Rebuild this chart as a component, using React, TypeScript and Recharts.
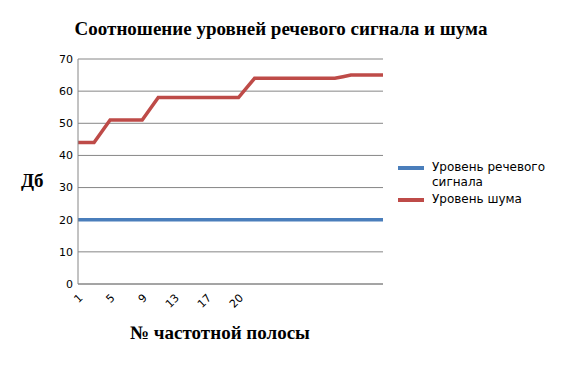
import React from "react";
import { LineChart, Line, XAxis, YAxis, CartesianGrid } from "recharts";

const BANDS: number[] = Array.from({ length: 39 }, (_, i) => i + 1);
const X_LABELS: string[] = [
  "1", "", "", "", "5", "", "", "", "9", "", "", "", "13", "", "", "", "17", "", "", "", "20",
  "", "", "", "", "", "", "", "", "", "", "", "", "", "", "", "", "", "",
];
const SPEECH: number[] = Array.from({ length: 39 }, () => 20);
const NOISE: number[] = [
  44, 44, 44, 47.5, 51, 51, 51, 51, 51, 54.5, 58, 58, 58, 58, 58, 58, 58, 58, 58, 58, 58, 61,
  64, 64, 64, 64, 64, 64, 64, 64, 64, 64, 64, 64.5, 65, 65, 65, 65, 65,
];
const Y_TICKS: number[] = [0, 10, 20, 30, 40, 50, 60, 70];

const SERIES_NAMES = ["Уровень речевого сигнала", "Уровень шума"];
const BLUE = "#4a7ebb";
const RED = "#be4b48";

const data = BANDS.map((b, i) => ({ band: b, speech: SPEECH[i], noise: NOISE[i] }));

const SANS = "'DejaVu Sans', sans-serif";
const SERIF = "'Liberation Serif', 'Times New Roman', serif";

const XTick = (props: any) => {
  const { x, y, payload } = props;
  const label = X_LABELS[payload.index] ?? "";
  if (!label) return null;
  return (
    <text
      x={x + 3}
      y={y + 4}
      textAnchor="end"
      fontFamily={SANS}
      fontSize={11}
      fill="#000"
      transform={`rotate(-45, ${x + 3}, ${y + 4})`}
      dominantBaseline="central"
    >
      {label}
    </text>
  );
};

const LegendBox = () => (
  <div
    style={{
      position: "absolute",
      left: 390,
      top: 152,
      fontFamily: SANS,
      fontSize: 12,
      color: "#000",
      lineHeight: "15px",
    }}
  >
    <div style={{ display: "flex", alignItems: "flex-start" }}>
      <div style={{ width: 26, height: 4, background: BLUE, marginTop: 6, marginRight: 8 }} />
      <div style={{ width: 125 }}>{SERIES_NAMES[0]}</div>
    </div>
    <div style={{ display: "flex", alignItems: "flex-start", marginTop: 2 }}>
      <div style={{ width: 26, height: 4, background: RED, marginTop: 6, marginRight: 8 }} />
      <div>{SERIES_NAMES[1]}</div>
    </div>
  </div>
);

export default function App() {
  return (
    <div style={{ position: "relative", width: 554, height: 357 }}>
      <div
        style={{
          position: "absolute",
          left: 0,
          width: 546,
          top: 10,
          textAlign: "center",
          fontFamily: SERIF,
          fontWeight: "bold",
          fontSize: 19,
          color: "#000",
        }}
      >
        Соотношение уровней речевого сигнала и шума
      </div>
      <div
        style={{
          position: "absolute",
          left: 13,
          top: 162,
          fontFamily: SERIF,
          fontWeight: "bold",
          fontSize: 19,
          color: "#000",
        }}
      >
        Дб
      </div>
      <div
        style={{
          position: "absolute",
          left: 0,
          width: 424,
          top: 314,
          textAlign: "center",
          fontFamily: SERIF,
          fontWeight: "bold",
          fontSize: 19,
          color: "#000",
        }}
      >
        № частотной полосы
      </div>
      <LineChart
        width={554}
        height={357}
        data={data}
        margin={{ top: 51, right: 179, left: 0, bottom: 0 }}
      >
        <CartesianGrid horizontal vertical={false} stroke="#868686" strokeWidth={1} />
        <XAxis
          dataKey="band"
          type="category"
          height={81}
          interval={0}
          tickLine={false}
          axisLine={{ stroke: "#868686" }}
          tick={<XTick />}
        />
        <YAxis
          width={70}
          domain={[0, 70]}
          ticks={Y_TICKS}
          tickLine={false}
          tickSize={0}
          tickMargin={5}
          axisLine={{ stroke: "#868686" }}
          tick={{ fontFamily: SANS, fontSize: 11, fill: "#000" }}
          interval={0}
        />
        <Line
          dataKey="speech"
          name={SERIES_NAMES[0]}
          stroke={BLUE}
          strokeWidth={3.5}
          dot={false}
          isAnimationActive={false}
          type="linear"
        />
        <Line
          dataKey="noise"
          name={SERIES_NAMES[1]}
          stroke={RED}
          strokeWidth={3.5}
          dot={false}
          isAnimationActive={false}
          type="linear"
        />
      </LineChart>
      <LegendBox />
    </div>
  );
}
